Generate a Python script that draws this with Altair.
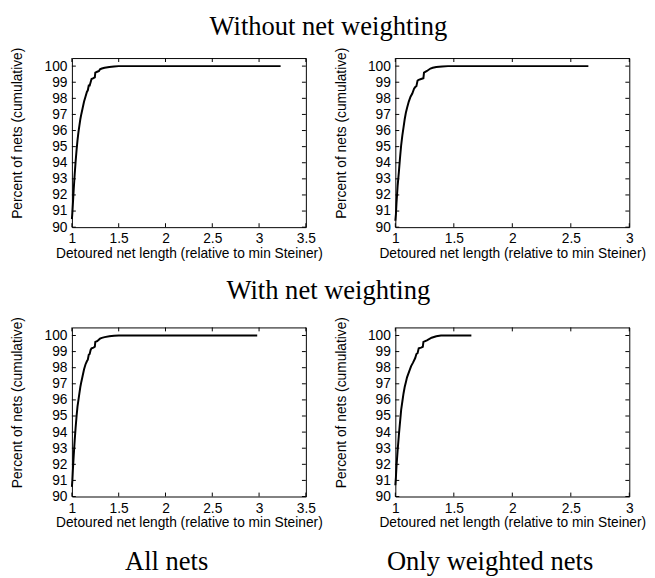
import altair as alt
import pandas as pd

# ---- data ----
tl_x = [1.000, 1.005, 1.010, 1.020, 1.030, 1.040, 1.050, 1.060, 1.070, 1.080, 1.090, 1.100, 1.115, 1.130,
        1.145, 1.160, 1.170, 1.180, 1.190, 1.200, 1.210, 1.230, 1.245, 1.250, 1.270, 1.290, 1.300, 1.320,
        1.350, 1.400, 1.450, 1.500, 3.230]
tl_y = [90.5, 90.9, 91.4, 92.4, 93.3, 94.1, 94.8, 95.4, 95.9, 96.3, 96.7, 97.0, 97.4, 97.8,
        98.1, 98.4, 98.5, 98.8, 98.8, 99.0, 99.2, 99.25, 99.3, 99.6, 99.65, 99.7, 99.8, 99.85,
        99.9, 99.95, 99.98, 100.0, 100.0]

tr_x = [1.000, 1.005, 1.010, 1.020, 1.030, 1.040, 1.050, 1.060, 1.070, 1.080, 1.090, 1.100, 1.115, 1.130,
        1.145, 1.160, 1.170, 1.180, 1.190, 1.200, 1.220, 1.240, 1.245, 1.270, 1.300, 1.320, 1.350, 1.400,
        1.450, 2.650]
tr_y = [90.4, 90.8, 91.5, 92.6, 93.4, 94.3, 95.1, 95.7, 96.2, 96.7, 97.1, 97.4, 97.8, 98.1,
        98.3, 98.6, 98.7, 98.75, 99.1, 99.15, 99.2, 99.25, 99.6, 99.7, 99.85, 99.9, 99.95, 99.98,
        100.0, 100.0]

bl_x = [1.000, 1.005, 1.010, 1.020, 1.030, 1.040, 1.050, 1.060, 1.070, 1.080, 1.090, 1.100, 1.115, 1.130,
        1.145, 1.160, 1.170, 1.180, 1.190, 1.200, 1.210, 1.230, 1.245, 1.250, 1.270, 1.300, 1.320,
        1.350, 1.400, 1.450, 1.500, 2.980]
bl_y = [90.6, 91.0, 91.6, 92.6, 93.5, 94.3, 95.0, 95.6, 96.0, 96.4, 96.8, 97.1, 97.5, 97.9,
        98.2, 98.4, 98.5, 98.8, 98.85, 99.1, 99.2, 99.25, 99.3, 99.6, 99.65, 99.8, 99.85,
        99.9, 99.95, 99.98, 100.0, 100.0]

br_x = [1.000, 1.005, 1.010, 1.020, 1.030, 1.040, 1.050, 1.060, 1.070, 1.080, 1.090, 1.100, 1.120, 1.135,
        1.150, 1.170, 1.180, 1.190, 1.200, 1.220, 1.235, 1.240, 1.270, 1.310, 1.350, 1.390, 1.650]
br_y = [90.7, 91.2, 91.9, 92.9, 93.8, 94.6, 95.4, 95.9, 96.4, 96.8, 97.1, 97.4, 97.8, 98.1,
        98.3, 98.6, 98.85, 98.9, 99.2, 99.25, 99.3, 99.6, 99.7, 99.86, 99.95, 100.0, 100.0]

x_max = [3.5, 3.0, 3.5, 3.0]
x_ticks_35 = [1, 1.5, 2, 2.5, 3, 3.5]
x_ticks_3 = [1, 1.5, 2, 2.5, 3]
y_ticks = [90, 91, 92, 93, 94, 95, 96, 97, 98, 99, 100]

x_title = "Detoured net length (relative to min Steiner)"
y_title = "Percent of nets (cumulative)"
row_titles = ["Without net weighting", "With net weighting"]
col_titles = ["All nets", "Only weighted nets"]

W, H = 238, 172
TICK = 4
SANS = "Liberation Sans"
SERIF = "Liberation Serif"
HEAD = 27


def panel(xs, ys, xmax, xticks, bottom_title=None):
    df = pd.DataFrame({"x": xs, "y": ys, "i": list(range(len(xs)))})
    xscale = alt.Scale(domain=[1, xmax], nice=False, zero=False)
    yscale = alt.Scale(domain=[90, 100.5], nice=False, zero=False)
    xaxis = alt.Axis(values=xticks, format="~g", ticks=False, grid=False, domain=False,
                     labelFlush=False, labelPadding=5, title=x_title, titlePadding=1)
    yaxis = alt.Axis(values=y_ticks, format="d", ticks=False, grid=False, domain=False,
                     labelPadding=5, title=y_title, titleX=-55, titleY=76,
                     titleBaseline="middle")
    line = alt.Chart(df).mark_line(color="black", strokeWidth=2).encode(
        x=alt.X("x:Q", scale=xscale, axis=xaxis),
        y=alt.Y("y:Q", scale=yscale, axis=yaxis),
        order="i:Q",
    )
    xt = pd.DataFrame({"x": xticks})
    yt = pd.DataFrame({"y": y_ticks})
    xb = alt.Chart(xt).mark_rule(color="black", strokeWidth=1).encode(
        x=alt.X("x:Q", scale=xscale, axis=xaxis), y=alt.value(H), y2=alt.value(H - TICK))
    xtop = alt.Chart(xt).mark_rule(color="black", strokeWidth=1).encode(
        x=alt.X("x:Q", scale=xscale, axis=xaxis), y=alt.value(0), y2=alt.value(TICK))
    yl = alt.Chart(yt).mark_rule(color="black", strokeWidth=1).encode(
        y=alt.Y("y:Q", scale=yscale, axis=yaxis), x=alt.value(0), x2=alt.value(TICK))
    yr = alt.Chart(yt).mark_rule(color="black", strokeWidth=1).encode(
        y=alt.Y("y:Q", scale=yscale, axis=yaxis), x=alt.value(W), x2=alt.value(W - TICK))
    ch = alt.layer(line, xb, xtop, yl, yr).properties(width=W, height=H)
    if bottom_title:
        ch = ch.properties(title=alt.Title(bottom_title, orient="bottom", font=SERIF, fontSize=HEAD,
                                           fontWeight="normal", color="black", anchor="middle",
                                           frame="bounds", offset=20))
    return ch


tl = panel(tl_x, tl_y, x_max[0], x_ticks_35)
tr = panel(tr_x, tr_y, x_max[1], x_ticks_3)
bl = panel(bl_x, bl_y, x_max[2], x_ticks_35, col_titles[0])
br = panel(br_x, br_y, x_max[3], x_ticks_3, col_titles[1])


def row_title(t, off):
    return alt.Title(t, font=SERIF, fontSize=HEAD, fontWeight="normal", color="black",
                     anchor="middle", frame="bounds", offset=off)


top = alt.hconcat(tl, tr, spacing=91, bounds="flush").properties(title=row_title(row_titles[0], 6))
bottom = alt.hconcat(bl, br, spacing=91, bounds="flush").properties(title=row_title(row_titles[1], 11))

chart = alt.vconcat(top, bottom, spacing=16).properties(
    padding={"left": 2, "top": 0, "right": 0, "bottom": 0}
).configure(
    background="white",
    view=alt.ViewConfig(stroke="black", strokeWidth=1),
    axis=alt.AxisConfig(labelFont=SANS, labelFontSize=14, labelColor="black",
                        titleFont=SANS, titleFontSize=14, titleFontWeight="normal",
                        titleColor="black"),
)

chart.save("out.html", embed_options={"renderer": "svg", "actions": False})
